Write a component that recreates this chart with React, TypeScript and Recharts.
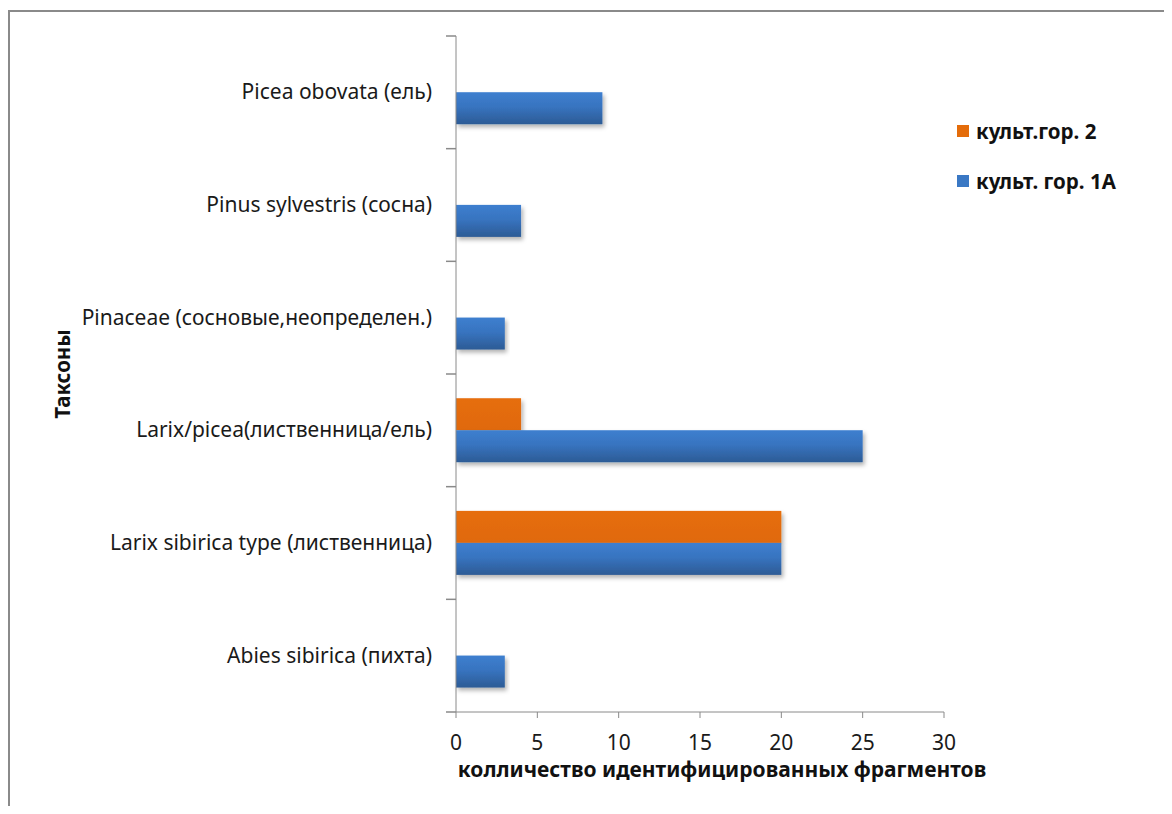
import React from 'react';
import { BarChart, Bar, XAxis, YAxis, Legend } from 'recharts';

const taxa = [
  'Picea obovata (ель)',
  'Pinus sylvestris (сосна)',
  'Pinaceae (сосновые,неопределен.)',
  'Larix/picea(лиственница/ель)',
  'Larix sibirica type (лиственница)',
  'Abies sibirica (пихта)',
];
const layer2 = [0, 0, 0, 4, 20, 0];
const layer1A = [9, 4, 3, 25, 20, 3];
const xTicks = [0, 5, 10, 15, 20, 25, 30];

const seriesNames = { layer2: 'культ.гор. 2', layer1A: 'культ. гор. 1А' };

const data = taxa.map((name, i) => ({ name, layer2: layer2[i], layer1A: layer1A[i] }));

const FONT = "'Noto Sans', 'Open Sans', sans-serif";
const AXIS_GRAY = '#8a8a8a';

function CategoryTick(props: any) {
  const { x, y, payload, index } = props;
  const half = payload.offset ?? 0;
  const axisX = x + 24;
  return (
    <g>
      <line x1={axisX - 10} x2={axisX} y1={y - half} y2={y - half} stroke={AXIS_GRAY} strokeWidth={1.5} />
      {index === taxa.length - 1 && (
        <line x1={axisX - 10} x2={axisX} y1={y + half} y2={y + half} stroke={AXIS_GRAY} strokeWidth={1.5} />
      )}
      <text x={x} y={y} dy={7} textAnchor="end" fontFamily={FONT} fontSize={21} fill="#1a1a1a">
        {payload.value}
      </text>
    </g>
  );
}

function BarShape(props: any) {
  const { x, y, width, height, fill } = props;
  if (!width || width <= 0) return <g />;
  return <rect x={x} y={y} width={width} height={height} fill={fill} filter="url(#barShadow)" />;
}

function LegendBox() {
  const items = [
    { label: seriesNames.layer2, color: '#e46c0a' },
    { label: seriesNames.layer1A, color: '#3a78c4' },
  ];
  return (
    <div style={{ fontFamily: FONT, fontWeight: 700, fontSize: 20.5, color: '#111' }}>
      {items.map((it) => (
        <div key={it.label} style={{ display: 'flex', alignItems: 'center', height: 50 }}>
          <span style={{ width: 12, height: 12, background: it.color, marginRight: 7, display: 'inline-block' }} />
          <span>{it.label}</span>
        </div>
      ))}
    </div>
  );
}

export default function App() {
  return (
    <div style={{ position: 'relative', width: 1156, height: 798, background: '#fff' }}>
      <div
        style={{
          position: 'absolute',
          left: 0,
          top: 2,
          width: 1156,
          height: 796,
          boxSizing: 'border-box',
          borderTop: `2px solid ${AXIS_GRAY}`,
          borderLeft: `2px solid ${AXIS_GRAY}`,
        }}
      />
      <BarChart
        width={1156}
        height={798}
        data={data}
        layout="vertical"
        margin={{ top: 28, right: 220, bottom: 0, left: 0 }}
        barCategoryGap="21.5%"
        barGap={0}
      >
        <defs>
          <linearGradient id="blueGrad" x1="0" y1="0" x2="0" y2="1">
            <stop offset="0%" stopColor="#3d7fcf" />
            <stop offset="45%" stopColor="#3874c0" />
            <stop offset="100%" stopColor="#2c5b95" />
          </linearGradient>
          <linearGradient id="orangeGrad" x1="0" y1="0" x2="0" y2="1">
            <stop offset="0%" stopColor="#e66e0c" />
            <stop offset="100%" stopColor="#e0690a" />
          </linearGradient>
          <filter id="barShadow" x="-5%" y="-20%" width="115%" height="160%">
            <feDropShadow dx="2" dy="3" stdDeviation="2" floodColor="#000" floodOpacity="0.3" />
          </filter>
        </defs>
        <XAxis
          type="number"
          domain={[0, 30]}
          ticks={xTicks}
          height={94}
          interval={0}
          stroke={AXIS_GRAY}
          tickSize={6}
          tickMargin={17}
          tick={{ fontFamily: FONT, fontSize: 21, fill: '#1a1a1a' }}
          label={({ viewBox }: any) => (
            <text
              x={viewBox.x + viewBox.width / 2 + 22}
              y={viewBox.y + 65}
              textAnchor="middle"
              fontFamily={FONT}
              fontWeight={700}
              fontSize={21}
              fill="#111"
            >
              колличество идентифицированных фрагментов
            </text>
          )}
        />
        <YAxis
          type="category"
          dataKey="name"
          width={448}
          stroke={AXIS_GRAY}
          tickLine={false}
          tickSize={10}
          tickMargin={14}
          interval={0}
          tick={<CategoryTick />}
          label={({ viewBox }: any) => (
            <text
              x={62}
              y={viewBox.y + viewBox.height / 2}
              textAnchor="middle"
              fontFamily={FONT}
              fontWeight={700}
              fontSize={20.5}
              fill="#111"
              transform={`rotate(-90, 62, ${viewBox.y + viewBox.height / 2})`}
            >
              Таксоны
            </text>
          )}
        />
        <Legend
          layout="vertical"
          align="center"
          verticalAlign="middle"
          wrapperStyle={{ top: 98, left: 949, width: 220, height: 100 }}
          content={<LegendBox />}
        />
        <Bar dataKey="layer2" name={seriesNames.layer2} fill="url(#orangeGrad)" shape={<BarShape />} isAnimationActive={false} />
        <Bar dataKey="layer1A" name={seriesNames.layer1A} fill="url(#blueGrad)" shape={<BarShape />} isAnimationActive={false} />
      </BarChart>
    </div>
  );
}
